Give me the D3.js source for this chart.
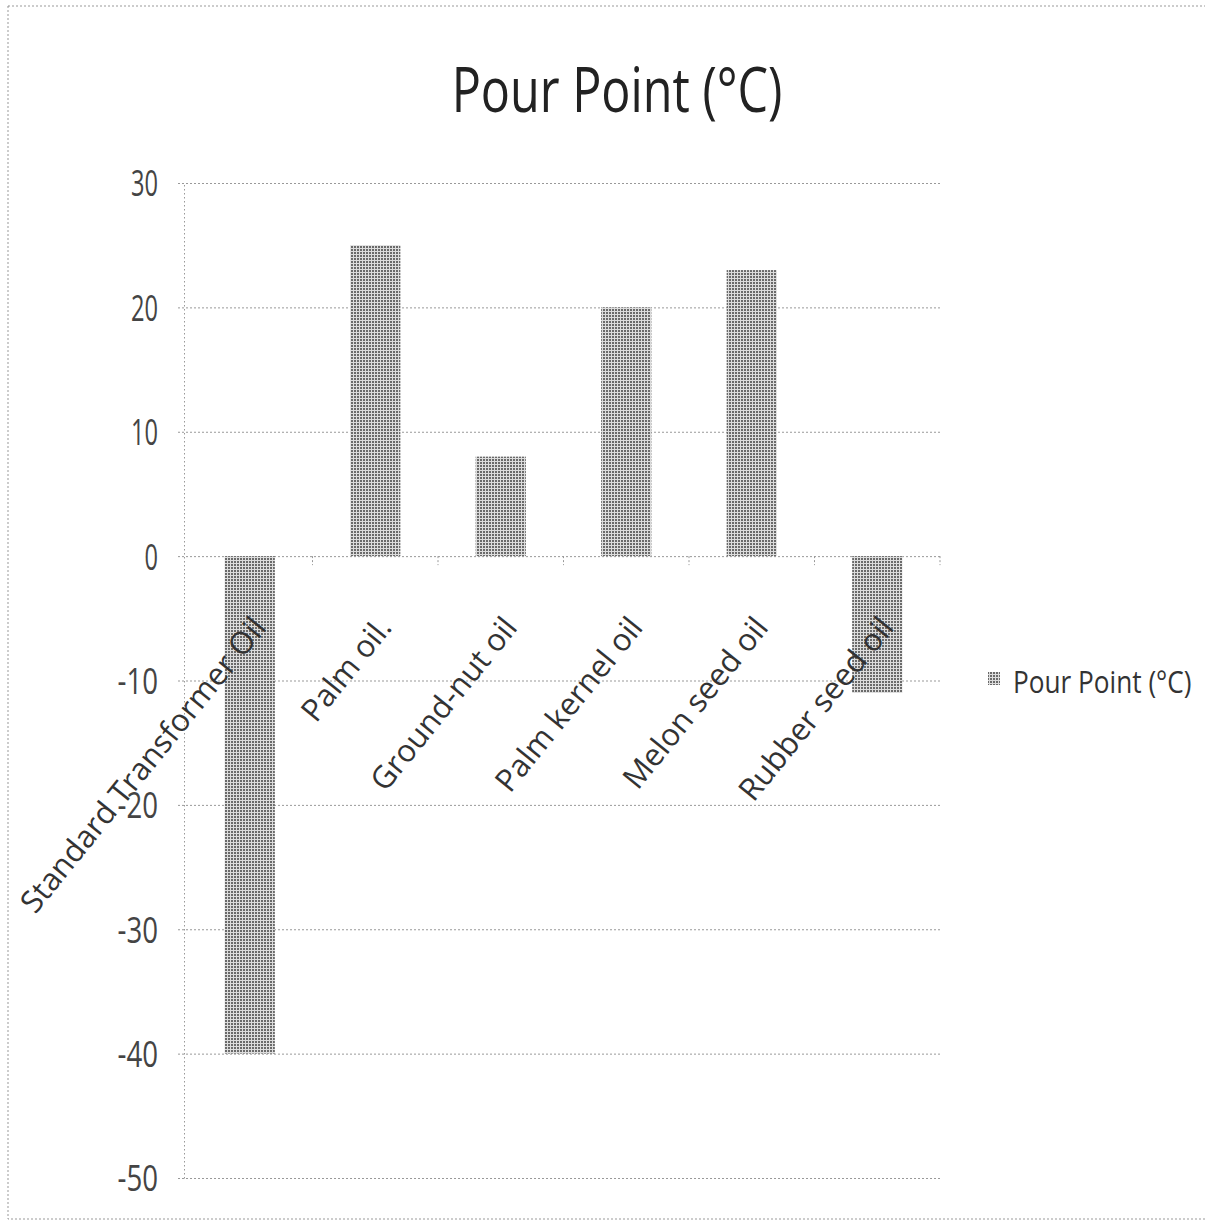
<!DOCTYPE html>
<html><head><meta charset="utf-8">
<script src="https://cdn.jsdelivr.net/npm/d3@7"></script>
<style>body{margin:0;background:#fff;overflow:hidden}</style>
</head><body>
<script>
const chartTitle = "Pour Point (°C)";
const seriesName = "Pour Point (°C)";
const categories = ["Standard Transformer Oil", "Palm oil.", "Ground-nut oil", "Palm kernel oil", "Melon seed oil", "Rubber seed oil"];
const pourPoint = [-40, 25, 8, 20, 23, -11];
const yTicks = [-50, -40, -30, -20, -10, 0, 10, 20, 30];

const W = 1205, H = 1222;
const svg = d3.select("body").append("svg").attr("width", W).attr("height", H);

const defs = svg.append("defs");
const pat = defs.append("pattern").attr("id", "ht").attr("patternUnits", "userSpaceOnUse")
  .attr("width", 3).attr("height", 3);
pat.append("rect").attr("width", 3).attr("height", 3).attr("fill", "#dcdcdc");
pat.append("rect").attr("width", 2).attr("height", 2).attr("fill", "#6a6a6a");

// outer border
svg.append("rect").attr("x", 8).attr("y", 6).attr("width", 1212).attr("height", 1213)
  .attr("fill", "none").attr("stroke", "#999").attr("stroke-dasharray", "2,2");

const axisX = 184, plotRight = 940, plotTop = 183, plotBottom = 1178;
const x = d3.scaleBand().domain(categories).range([187, plotRight]).paddingInner(0.6).paddingOuter(0.3);
const y = d3.scaleLinear().domain([-50, 30]).range([plotBottom, plotTop]);

// gridlines via axis
const yAxis = d3.axisLeft(y).tickValues(yTicks).tickSize(-(plotRight - axisX)).tickSizeOuter(0)
  .tickFormat(d => String(d));
const gy = svg.append("g").attr("transform", `translate(${axisX},0)`).call(yAxis);
gy.select(".domain").attr("stroke", "#999").attr("stroke-dasharray", "1.5,2.5");
gy.selectAll(".tick line").attr("stroke", "#999").attr("stroke-dasharray", "2,2").attr("x1", -6);
gy.selectAll(".tick text")
  .attr("x", -26).attr("dy", "0.36em")
  .attr("font-family", "Open Sans, sans-serif").attr("font-size", 36).attr("fill", "#444")
  .attr("text-anchor", "end")
  .attr("lengthAdjust", "spacingAndGlyphs")
  .attr("textLength", d => String(d).length * 13.5);

// bars
svg.append("g").selectAll("rect").data(pourPoint).join("rect")
  .attr("x", (d, i) => x(categories[i]))
  .attr("width", x.bandwidth())
  .attr("y", d => y(Math.max(0, d)))
  .attr("height", d => Math.abs(y(d) - y(0)))
  .attr("fill", "url(#ht)");

// category boundary ticks on zero line
const step = x.step();
const bounds = categories.map((c, i) => x(c) + x.bandwidth() / 2 + step / 2);
svg.append("g").selectAll("line").data(bounds).join("line")
  .attr("x1", d => d).attr("x2", d => d)
  .attr("y1", y(0)).attr("y2", y(0) + 9)
  .attr("stroke", "#999").attr("stroke-dasharray", "2,2");

// category labels
svg.append("g").selectAll("text").data(categories).join("text")
  .attr("transform", d => `translate(${x(d) + x.bandwidth() / 2 + 18},${y(0) + 72}) rotate(-51)`)
  .attr("text-anchor", "end")
  .attr("font-family", "Open Sans, sans-serif").attr("font-size", 31).attr("fill", "#333")
  .text(d => d);

// title
svg.append("text").attr("transform", "translate(617,112) scale(0.77,1)").attr("text-anchor", "middle")
  .attr("font-family", "Open Sans, sans-serif").attr("font-size", 63).attr("fill", "#222")
  .text(chartTitle);

// legend
const lg = svg.append("g");
lg.append("rect").attr("x", 988).attr("y", 672).attr("width", 12).attr("height", 13).attr("fill", "url(#ht)");
lg.append("text").attr("transform", "translate(1013,693) scale(0.845,1)")
  .attr("font-family", "Open Sans, sans-serif").attr("font-size", 31).attr("fill", "#333")
  .text(seriesName);
</script>
</body></html>
